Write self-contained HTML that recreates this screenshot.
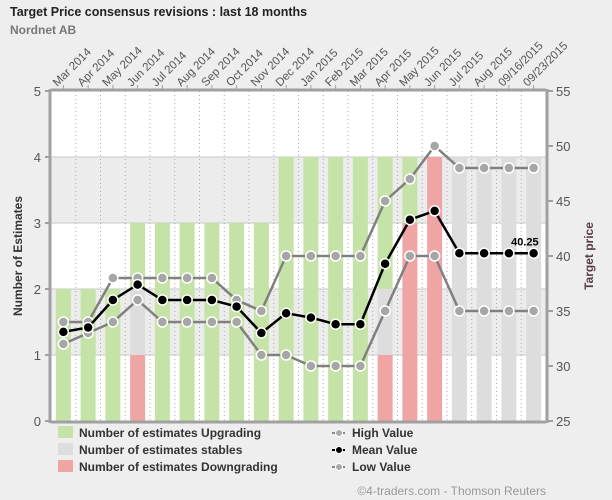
<!DOCTYPE html>
<html><head><meta charset="utf-8"><style>
body{margin:0;background:#eeeeee;}
svg{display:block;font-family:"Liberation Sans",Arial,sans-serif;}
</style></head><body>
<svg id="chart" width="612" height="500">
<rect width="612" height="500" fill="#eeeeee"/>
<text x="10" y="16" font-size="12.5" font-weight="bold" fill="#222">Target Price consensus revisions : last 18 months</text>
<text x="10" y="34" font-size="12" font-weight="bold" fill="#777">Nordnet AB</text>
<g id="plot"></g>
<text transform="translate(22,256) rotate(-90)" text-anchor="middle" font-size="12" font-weight="bold" fill="#333">Number of Estimates</text>
<text transform="translate(593,256) rotate(-90)" text-anchor="middle" font-size="12" font-weight="bold" fill="#5a3a48">Target price</text>
<g font-size="12" font-weight="bold" fill="#333">
<rect x="58" y="426" width="15" height="12" fill="#c5e3a6"/>
<text x="79" y="437">Number of estimates Upgrading</text>
<rect x="58" y="443" width="15" height="12" fill="#dddddd"/>
<text x="79" y="454">Number of estimates stables</text>
<rect x="58" y="460" width="15" height="12" fill="#f0a5a5"/>
<text x="79" y="471">Number of estimates Downgrading</text>
<line x1="332" y1="433" x2="346" y2="433" stroke="#888" stroke-width="2" stroke-dasharray="3,2"/><circle cx="339" cy="433" r="3.5" fill="#aaa" stroke="#fff"/>
<text x="352" y="437">High Value</text>
<line x1="332" y1="450" x2="346" y2="450" stroke="#000" stroke-width="2" stroke-dasharray="3,2"/><circle cx="339" cy="450" r="3.5" fill="#000" stroke="#fff"/>
<text x="352" y="454">Mean Value</text>
<line x1="332" y1="467" x2="346" y2="467" stroke="#888" stroke-width="2" stroke-dasharray="3,2"/><circle cx="339" cy="467" r="3.5" fill="#aaa" stroke="#fff"/>
<text x="352" y="471">Low Value</text>
</g>
<text x="546" y="495" text-anchor="end" font-size="12" fill="#999">©4-traders.com - Thomson Reuters</text>
</svg>
<script>
const categories=["Mar 2014","Apr 2014","May 2014","Jun 2014","Jul 2014","Aug 2014","Sep 2014","Oct 2014","Nov 2014","Dec 2014","Jan 2015","Feb 2015","Mar 2015","Apr 2015","May 2015","Jun 2015","Jul 2015","Aug 2015","09/16/2015","09/23/2015"];
const upgrading=[2,2,2,1,3,3,3,3,3,4,4,4,4,2,1,0,0,0,0,0];
const stables=[0,0,0,1,0,0,0,0,0,0,0,0,0,1,0,0,4,4,4,4];
const downgrading=[0,0,0,1,0,0,0,0,0,0,0,0,0,1,3,4,0,0,0,0];
const highValue=[34,34,38,38,38,38,38,36,35,40,40,40,40,45,47,50,48,48,48,48];
const meanValue=[33.1,33.5,36,37.4,36,36,36,35.4,33,34.8,34.4,33.8,33.8,39.3,43.3,44.1,40.25,40.25,40.25,40.25];
const lowValue=[32,33,34,36,34,34,34,34,31,31,30,30,30,35,40,40,35,35,35,35];
const leftTicks=[0,1,2,3,4,5];
const rightTicks=[25,30,35,40,45,50,55];

const NS="http://www.w3.org/2000/svg";
const L=51,R=546,T=91,B=421;
const step=(R-L)/categories.length;
const xc=i=>L+step*(i+0.5);
const yL=v=>B-(v/5)*(B-T);
const yR=v=>B-((v-25)/30)*(B-T);
const g=document.getElementById('plot');
function mk(tag,attrs,parent){const e=document.createElementNS(NS,tag);for(const k in attrs)e.setAttribute(k,attrs[k]);(parent||g).appendChild(e);return e;}
mk('rect',{x:L,y:T,width:R-L,height:B-T,fill:'#fff'});
for(let k=1;k<5;k+=2){const b=mk('rect',{x:L,y:yL(k+1),width:R-L,height:yL(k)-yL(k+1),fill:'#ececec'});

}
for(let k=1;k<5;k++)mk('line',{x1:L,x2:R,y1:yL(k),y2:yL(k),stroke:'#c8c8c8','stroke-width':1});
for(let i=1;i<categories.length;i++)mk('line',{x1:L+step*i,x2:L+step*i,y1:T,y2:B,stroke:'#aaa','stroke-dasharray':'1,3'});
const bw=15;
categories.forEach((c,i)=>{
  let base=0;
  [[downgrading,'#f0a5a5','down'],[stables,'#dddddd','stable'],[upgrading,'#c5e3a6','up']].forEach(([arr,col,nm])=>{
    const v=arr[i];if(!v)return;
    const r=mk('rect',{x:xc(i)-bw/2,y:yL(base+v),width:bw,height:yL(base)-yL(base+v),fill:col});
    
    
    base+=v;
  });
});
mk('line',{x1:L,x2:R,y1:T-1,y2:T-1,stroke:'#a0a0a0','stroke-width':3});
mk('line',{x1:L,x2:R,y1:B+1,y2:B+1,stroke:'#a0a0a0','stroke-width':3});
mk('line',{x1:L-1,x2:L-1,y1:T-2,y2:B+2,stroke:'#a0a0a0','stroke-width':3});
mk('line',{x1:R+1,x2:R+1,y1:T-2,y2:B+2,stroke:'#a0a0a0','stroke-width':3});
leftTicks.forEach(v=>{mk('line',{x1:L-6,x2:L,y1:yL(v),y2:yL(v),stroke:'#a0a0a0','stroke-width':2});
 const t=mk('text',{x:L-10,y:yL(v)+5,'text-anchor':'end','font-size':13,fill:'#555'});t.textContent=v;
 
 });
rightTicks.forEach(v=>{mk('line',{x1:R,x2:R+7,y1:yR(v),y2:yR(v),stroke:'#a0a0a0','stroke-width':2});
 const t=mk('text',{x:R+10,y:yR(v)+5,'font-size':13,fill:'#555'});t.textContent=v;
 
 });
categories.forEach((c,i)=>{const x=xc(i)-6,y=T-4;
 mk('line',{x1:xc(i),x2:xc(i),y1:T-6,y2:T-2,stroke:'#a0a0a0'});
 const t=mk('text',{transform:`translate(${x},${y}) rotate(-45)`,'text-anchor':'start','font-size':11.5,fill:'#555'});t.textContent=c;
 
 });
[[highValue,'#808080','#a6a6a6','high'],[lowValue,'#808080','#a6a6a6','low'],[meanValue,'#000','#000','mean']].forEach(([arr,lc,pc,nm])=>{
 const p=mk('polyline',{points:arr.map((v,i)=>xc(i)+','+yR(v)).join(' '),fill:'none',stroke:lc,'stroke-width':2.5});
 
 
 arr.forEach((v,i)=>{const c=mk('circle',{cx:xc(i),cy:yR(v),r:5,fill:pc,stroke:'#fff','stroke-width':1.5});
  
  });
});
const n=meanValue.length-1;
const lab=mk('text',{x:xc(n)+5,y:yR(meanValue[n])-8,'text-anchor':'end','font-size':11,'font-weight':'bold',fill:'#000'});
lab.textContent=meanValue[n].toFixed(2);


</script>
</body></html>
